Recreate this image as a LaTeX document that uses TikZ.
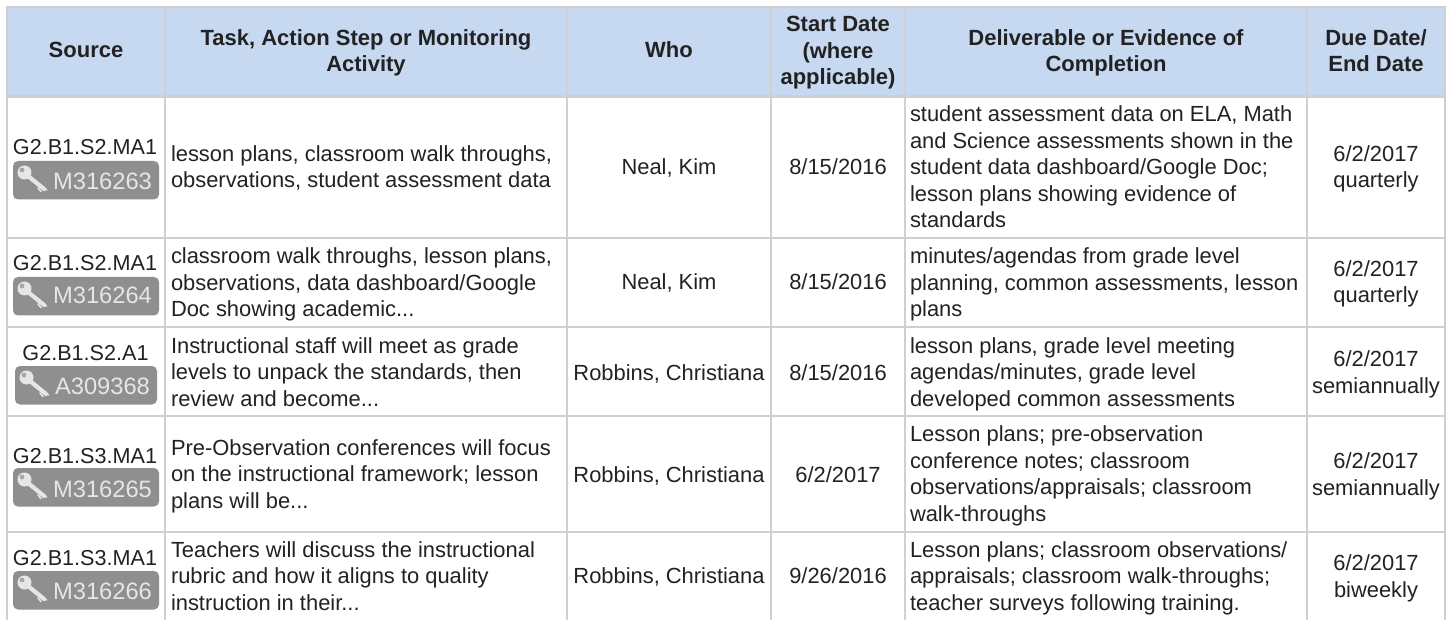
\documentclass[tikz,border=0pt]{standalone}
\usepackage{fontspec}
\setmainfont{Liberation Sans}
\definecolor{hdr}{HTML}{C6D9F1}
\definecolor{rule}{HTML}{D0D0D0}
\definecolor{ink}{HTML}{222222}
\definecolor{badgegray}{HTML}{8F8F8F}
\definecolor{badgetext}{HTML}{E6E6E6}
\definecolor{keyhole}{HTML}{A8A8A8}
\tikzset{
  tx/.style={inner sep=0pt,outer sep=0pt,text=ink,font=\fontsize{21.9}{26.5}\selectfont},
  lft/.style={tx,anchor=base west,align=left},
  ctr/.style={tx,anchor=base,align=center},
  src/.style={ctr,font=\fontsize{21.6}{26.5}\selectfont},
  hd/.style={tx,anchor=base,align=center,font=\fontsize{22}{26.5}\selectfont\bfseries},
  gridline/.style={draw=rule,line width=2.2pt},
  badgebox/.style={fill=badgegray,rounded corners=5pt},
  badgelabel/.style={inner sep=0pt,anchor=base,text=badgetext,font=\fontsize{23.7}{26}\selectfont},
  keypart/.style={draw=badgetext,line cap=round}
}
% name, left x, right x, top y, baseline y, label
\newcommand{\badge}[6]{%
  \path[badgebox] (#2,#4) rectangle (#3,#4+38.5);
  \draw[keypart,line width=4.2pt] (#2+15,#4+15) -- (#2+31,#4+28);
  \draw[keypart,line width=1.6pt] (#2+25,#4+27) -- (#2+28,#4+30.5);
  \draw[keypart,line width=1.6pt] (#2+29,#4+25) -- (#2+33.5,#4+29);
  \fill[badgetext] (#2+11.5,#4+11.5) circle (7);
  \fill[keyhole] (#2+9,#4+9) circle (2.4);
  \node[badgelabel] (#1) at (102.5,#5) {#6};
}
\begin{document}
\begin{tikzpicture}[x=1pt,y=-1pt]
\useasboundingbox (0,0) rectangle (1454,620);
\fill[white] (0,0) rectangle (1454,620);
\fill[hdr] (7,7) rectangle (1445,96.5);
\foreach \yy in {7,96.5,238,327,416,532}
  \draw[gridline] (5.9,\yy) -- (1446.1,\yy);
\foreach \xx in {7,165,567,771,905,1307,1445}
  \draw[gridline] (\xx,5.9) -- (\xx,620);

% header
\node[hd] (h1) at (86,58) {Source};
\node[hd] (h2) at (366,72) {Task, Action Step or Monitoring\\Activity};
\node[hd] (h3) at (669,58) {Who};
\node[hd] (h4) at (838,85) {Start Date\\(where\\applicable)};
\node[hd] (h5) at (1106,72) {Deliverable or Evidence of\\Completion};
\node[hd] (h6) at (1376,72) {Due Date/\\End Date};

% source column
\node[src] (s1) at (85,155) {G2.B1.S2.MA1};
\badge{b1}{13}{159}{161}{190}{M316263}
\node[src] (s2) at (85,271) {G2.B1.S2.MA1};
\badge{b2}{13}{159}{277}{304}{M316264}
\node[src] (s3) at (85.5,360) {G2.B1.S2.A1};
\badge{b3}{15}{157}{366}{394}{A309368}
\node[src] (s4) at (85,463) {G2.B1.S3.MA1};
\badge{b4}{13}{159}{468}{497}{M316265}
\node[src] (s5) at (85,565) {G2.B1.S3.MA1};
\badge{b5}{13}{159}{571}{599}{M316266}

% task column
\node[lft] (t1) at (171,188) {lesson plans, classroom walk throughs,\\observations, student assessment data};
\node[lft] (t2) at (171,317) {classroom walk throughs, lesson plans,\\observations, data dashboard/Google\\Doc showing academic...};
\node[lft] (t3) at (171,406) {Instructional staff will meet as grade\\levels to unpack the standards, then\\review and become...};
\node[lft] (t4) at (171,508) {Pre-Observation conferences will focus\\on the instructional framework; lesson\\plans will be...};
\node[lft] (t5) at (171,610) {Teachers will discuss the instructional\\rubric and how it aligns to quality\\instruction in their...};

% who column
\node[ctr] (w1) at (669,175) {Neal, Kim};
\node[ctr] (w2) at (669,290) {Neal, Kim};
\node[ctr] (w3) at (669,380) {Robbins, Christiana};
\node[ctr] (w4) at (669,482) {Robbins, Christiana};
\node[ctr] (w5) at (669,583) {Robbins, Christiana};

% start date column
\node[ctr] (d1) at (838,175) {8/15/2016};
\node[ctr] (d2) at (838,290) {8/15/2016};
\node[ctr] (d3) at (838,380) {8/15/2016};
\node[ctr] (d4) at (838,482) {6/2/2017};
\node[ctr] (d5) at (838,583) {9/26/2016};

% deliverable column
\node[lft] (e1) at (910,228) {student assessment data on ELA, Math\\and Science assessments shown in the\\student data dashboard/Google Doc;\\lesson plans showing evidence of\\standards};
\node[lft] (e2) at (910,317) {minutes/agendas from grade level\\planning, common assessments, lesson\\plans};
\node[lft] (e3) at (910,406) {lesson plans, grade level meeting\\agendas/minutes, grade level\\developed common assessments};
\node[lft] (e4) at (910,521) {Lesson plans; pre-observation\\conference notes; classroom\\observations/appraisals; classroom\\walk-throughs};
\node[lft] (e5) at (910,610) {Lesson plans; classroom observations/\\appraisals; classroom walk-throughs;\\teacher surveys following training.};

% due date column
\node[ctr] (f1) at (1376,188) {6/2/2017\\quarterly};
\node[ctr] (f2) at (1376,303) {6/2/2017\\quarterly};
\node[ctr] (f3) at (1376,393) {6/2/2017\\semiannually};
\node[ctr] (f4) at (1376,495) {6/2/2017\\semiannually};
\node[ctr] (f5) at (1376,597) {6/2/2017\\biweekly};
\end{tikzpicture}
\end{document}
